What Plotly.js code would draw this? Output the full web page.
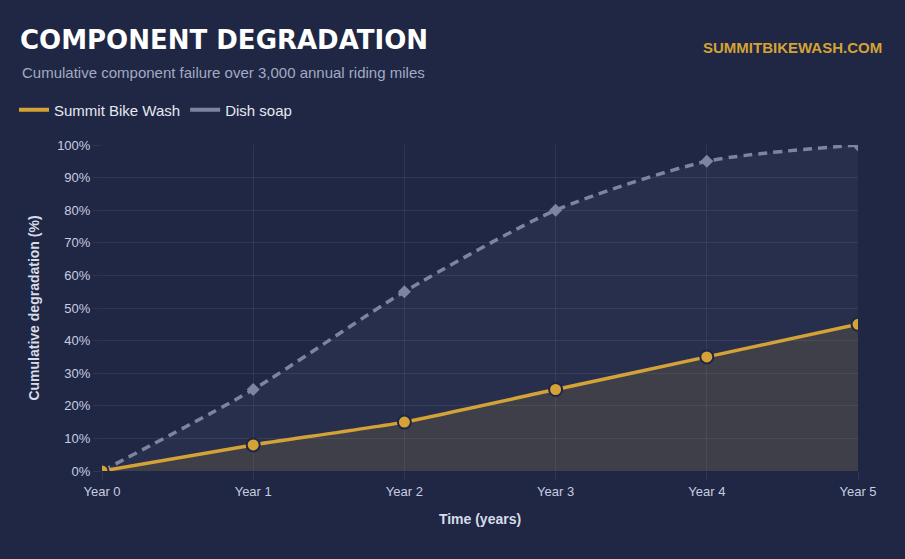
<!DOCTYPE html>
<html>
<head>
<meta charset="utf-8">
<script src="https://cdn.plot.ly/plotly-3.0.1.min.js"></script>
<style>
    html, body { margin: 0; padding: 0; background: #1f2744; }
    #chart { width: 905px; height: 559px; }
</style>
</head>
<body>
<div id="chart"></div>
<script>
// values
const years = [ 0, 1, 2, 3, 4, 5 ];
const yearLabels = [ 'Year 0', 'Year 1', 'Year 2', 'Year 3', 'Year 4', 'Year 5' ];
const summitWash = [ 0, 8, 15, 25, 35, 45 ];
const dishSoap = [ 0, 25, 55, 80, 95, 100 ];

const gold = '#d4a236';
const slate = '#7d84a0';
const paper = '#1f2744';
const gridColor = 'rgba(255,255,255,0.07)';

const data = [
    {
        type: 'scatter',
        name: 'Dish soap',
        x: years,
        y: dishSoap,
        mode: 'lines+markers',
        fill: 'tozeroy',
        fillcolor: 'rgba(140,148,180,0.08)',
        line: { color: slate, width: 3.5, dash: '9px,6px', shape: 'spline', smoothing: 0.7 },
        marker: { symbol: 'diamond', size: 10, color: slate },
        showlegend: false,
        hoverinfo: 'skip'
    },
    {
        type: 'scatter',
        name: 'Summit Bike Wash',
        x: years,
        y: summitWash,
        mode: 'lines+markers',
        fill: 'tozeroy',
        fillcolor: 'rgba(212,162,54,0.14)',
        line: { color: gold, width: 3.5, shape: 'spline', smoothing: 0.4 },
        marker: { symbol: 'circle', size: 13, color: gold, line: { color: paper, width: 2 } },
        showlegend: false,
        hoverinfo: 'skip'
    },
    // legend-only entries (line swatches without markers)
    {
        type: 'scatter',
        name: 'Summit Bike Wash',
        x: [ null ],
        y: [ null ],
        mode: 'lines',
        line: { color: gold, width: 4 }
    },
    {
        type: 'scatter',
        name: 'Dish soap',
        x: [ null ],
        y: [ null ],
        mode: 'lines',
        line: { color: slate, width: 4 }
    }
];

const layout = {
    width: 905,
    height: 559,
    paper_bgcolor: paper,
    plot_bgcolor: paper,
    margin: { l: 102, r: 47, t: 145, b: 88 },
    font: { family: 'Liberation Sans, Arial, sans-serif', color: '#c8cde0', size: 13 },
    title: {
        text: '<b>COMPONENT DEGRADATION</b>',
        font: { family: 'DejaVu Sans, sans-serif', size: 26, color: '#ffffff' },
        x: 20 / 905,
        xanchor: 'left',
        xref: 'container',
        y: 1 - 40 / 559,
        yanchor: 'middle',
        yref: 'container'
    },
    showlegend: true,
    legend: {
        orientation: 'h',
        x: -88 / 756,
        xanchor: 'left',
        y: 1 + 35 / 326,
        yanchor: 'middle',
        font: { size: 15, color: '#e6e9f2' },
        itemwidth: 30,
        tracegroupgap: 0,
        bgcolor: 'rgba(0,0,0,0)'
    },
    xaxis: {
        range: [ 0, 5 ],
        tickvals: years,
        ticktext: yearLabels,
        showgrid: true,
        gridcolor: gridColor,
        zeroline: false,
        showline: false,
        ticks: 'outside',
        ticklen: 8,
        tickcolor: gridColor,
        tickfont: { size: 13, color: '#c8cde0' },
        title: {
            text: '<b>Time (years)</b>',
            font: { size: 14, color: '#d8dcea' },
            standoff: 16
        },
        fixedrange: true
    },
    yaxis: {
        range: [ 0, 100 ],
        dtick: 10,
        ticksuffix: '%',
        showgrid: true,
        gridcolor: gridColor,
        zeroline: false,
        showline: false,
        ticks: 'outside',
        ticklen: 8,
        tickcolor: gridColor,
        tickfont: { size: 13, color: '#c8cde0' },
        title: {
            text: '<b>Cumulative degradation (%)</b>',
            font: { size: 14, color: '#d8dcea' },
            standoff: 14
        },
        fixedrange: true
    },
    annotations: [
        {
            text: 'Cumulative component failure over 3,000 annual riding miles',
            xref: 'paper', yref: 'paper',
            x: -82 / 756, xanchor: 'left',
            y: 1 + 72 / 326, yanchor: 'middle',
            showarrow: false,
            font: { size: 15, color: '#a3aac2' }
        },
        {
            text: '<b>SUMMITBIKEWASH.COM</b>',
            xref: 'paper', yref: 'paper',
            x: 1 + 26 / 756, xanchor: 'right',
            y: 1 + 97 / 326, yanchor: 'middle',
            showarrow: false,
            font: { size: 15, color: gold }
        }
    ]
};

Plotly.newPlot( 'chart', data, layout, { displayModeBar: false, staticPlot: true } );
</script>
</body>
</html>
